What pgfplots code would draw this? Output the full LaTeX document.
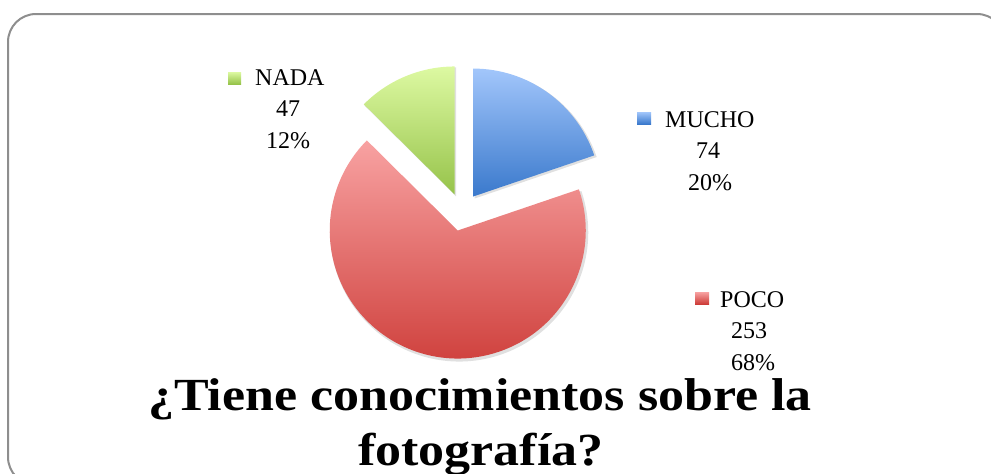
\documentclass[border=0pt]{standalone}
\usepackage{fontspec}
\setmainfont{Liberation Serif}
\usepackage{pgfplots}
\pgfplotsset{compat=1.18}
\usepackage{pgfplotstable}

\definecolor{bluetop}{HTML}{A2C6FB}
\definecolor{bluebot}{HTML}{3A79CC}
\definecolor{greentop}{HTML}{DDF9A2}
\definecolor{greenbot}{HTML}{96C34A}
\definecolor{redtop}{HTML}{F8A2A2}
\definecolor{redbot}{HTML}{CD3C38}
\definecolor{framegray}{HTML}{8E8E8E}

\pgfplotstableread{
label value pct
MUCHO 74 20
POCO 253 68
NADA 47 12
}\piedata

\pgfplotstablegetelem{0}{value}\of\piedata \edef\vA{\pgfplotsretval}%
\pgfplotstablegetelem{1}{value}\of\piedata \edef\vB{\pgfplotsretval}%
\pgfplotstablegetelem{2}{value}\of\piedata \edef\vC{\pgfplotsretval}%
\pgfplotstablegetelem{0}{pct}\of\piedata \edef\pA{\pgfplotsretval}%
\pgfplotstablegetelem{1}{pct}\of\piedata \edef\pB{\pgfplotsretval}%
\pgfplotstablegetelem{2}{pct}\of\piedata \edef\pC{\pgfplotsretval}%
\pgfmathsetmacro\tot{\vA+\vB+\vC}%
\pgfmathsetmacro\eA{90-(\vA/\tot)*360}%
\pgfmathsetmacro\eB{\eA-(\vB/\tot)*360}%
\pgfmathsetmacro\eC{\eB-(\vC/\tot)*360}%
\pgfmathsetmacro\mA{(90+\eA)/2}%
\pgfmathsetmacro\mB{(\eA+\eB)/2}%
\pgfmathsetmacro\mC{(\eB+\eC)/2}%
% exploded slice centres (pie centre 462,212; offset 19; y axis reversed)
\pgfmathsetmacro\xA{462+19*cos(\mA)}\pgfmathsetmacro\yA{212-19*sin(\mA)}%
\pgfmathsetmacro\xB{462+19*cos(\mB)}\pgfmathsetmacro\yB{212-19*sin(\mB)}%
\pgfmathsetmacro\xC{462+19*cos(\mC)}\pgfmathsetmacro\yC{212-19*sin(\mC)}%

% #1 start angle, #2 end angle, #3 centre x, #4 centre y, #5 top colour, #6 bottom colour
\newcommand\pieslice[6]{%
  \fill[black,opacity=0.12] (axis cs:#3,#4) ++(1.5pt,-2pt) -- ++(#1:129pt)
    arc[start angle=#1,end angle=#2,radius=129pt] -- cycle;
  \shade[top color=#5,bottom color=#6]
    (axis cs:#3,#4) -- ++(#1:128pt)
    arc[start angle=#1,end angle=#2,radius=128pt] -- cycle;
}

\begin{document}%
\begin{tikzpicture}
\begin{axis}[
  hide axis, scale only axis,
  width=991pt, height=474pt,
  xmin=0, xmax=991, ymin=0, ymax=474,
  y dir=reverse, clip=false,
  at={(0,0)}, anchor=south west,
]
\draw[overlay, framegray, line width=2pt, rounded corners=28pt]
  (axis cs:8,14) rectangle (axis cs:1005,485);
\pieslice{90}{\eA}{\xA}{\yA}{bluetop}{bluebot}
\pieslice{\eA}{\eB}{\xB}{\yB}{redtop}{redbot}
\pieslice{\eB}{\eC}{\xC}{\yC}{greentop}{greenbot}
% legend-like markers
\shade[top color=greentop,bottom color=greenbot] (axis cs:228,72) rectangle (axis cs:241,84);
\shade[top color=bluetop,bottom color=bluebot] (axis cs:637,112) rectangle (axis cs:651,124);
\shade[top color=redtop,bottom color=redbot] (axis cs:695,292) rectangle (axis cs:709,304);
\begin{scope}[every node/.style={inner sep=0pt,font=\fontsize{24}{28}\selectfont}]
\node[anchor=base west] at (axis cs:255,85) {NADA};
\node[anchor=base] at (axis cs:288,116) {\vC};
\node[anchor=base] at (axis cs:288,148) {\pC\%};
\node[anchor=base west] at (axis cs:665,127) {MUCHO};
\node[anchor=base] at (axis cs:708,158) {\vA};
\node[anchor=base] at (axis cs:710,190) {\pA\%};
\node[anchor=base west] at (axis cs:720,307) {POCO};
\node[anchor=base] at (axis cs:749,338) {\vB};
\node[anchor=base] at (axis cs:753,370) {\pB\%};
\end{scope}
\begin{scope}[every node/.style={inner sep=0pt,font=\bfseries\fontsize{46}{54}\selectfont}]
\node[anchor=base] at (axis cs:480,410) {\scalebox{1.13}[1]{¿Tiene conocimientos sobre la}};
\node[anchor=base] at (axis cs:481,465) {\scalebox{1.13}[1]{fotografía?}};
\end{scope}
\end{axis}
\pgfresetboundingbox
\path[use as bounding box] (0,0) rectangle (991pt,474pt);
\end{tikzpicture}%
\end{document}
